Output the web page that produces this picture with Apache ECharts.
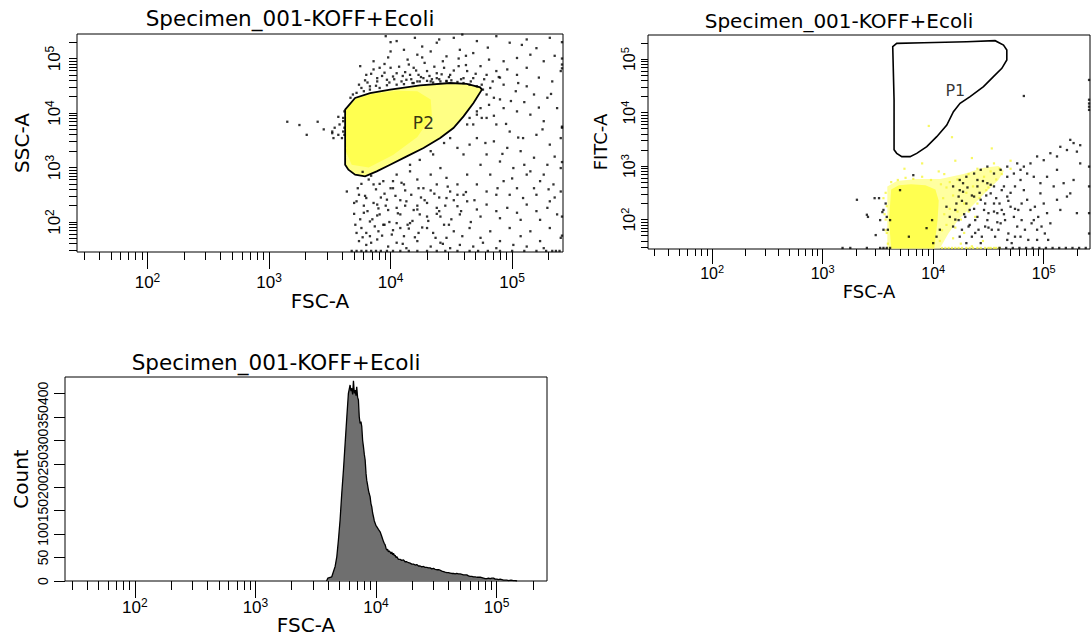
<!DOCTYPE html>
<html><head><meta charset="utf-8">
<script src="https://cdn.jsdelivr.net/npm/echarts@6/dist/echarts.min.js"></script>
<style>html,body{margin:0;padding:0;background:#fff}#c{width:1092px;height:641px}</style>
</head><body><div id="c"></div>
<script>
// ---------- texts ----------
const chartTitle = 'Specimen_001-KOFF+Ecoli';
const fscName = 'FSC-A', sscName = 'SSC-A', fitcName = 'FITC-A', countName = 'Count';
const p2Label = 'P2', p1Label = 'P1';

// ---------- axes (all fluorescence/scatter axes are drawn in log10 units) ----------
const fscRangeLog = [1.42, 5.4185];
const yRangeLog = [1.45, 5.45];
const countRange = [0, 435];
const majorTickExps = [2, 3, 4, 5];               // 10^2 ... 10^5
const minorTickValues = [30,40,50,60,70,80,90,200,300,400,500,600,700,800,900,
  2000,3000,4000,5000,6000,7000,8000,9000,20000,30000,40000,50000,60000,70000,80000,90000,200000];
const countTicks = [0,50,100,150,200,250,300,350,400];

// ---------- top-left: FSC-A vs SSC-A (log10 values) ----------
const p2GateLog = [[3.626,4.062],[3.708,4.276],[3.831,4.367],[3.996,4.429],[4.243,4.508],[4.490,4.551],[4.627,4.533],[4.737,4.471],[4.751,4.429],[4.682,4.184],[4.600,3.939],[4.517,3.725],[4.408,3.542],[4.271,3.358],[4.133,3.205],[3.996,3.052],[3.886,2.930],[3.790,2.838],[3.708,2.869],[3.653,2.961],[3.626,3.052]];
const p2CoreLog = [[3.632,4.045],[3.715,4.262],[3.850,4.350],[4.051,4.410],[4.220,4.400],[4.330,4.250],[4.340,3.950],[4.220,3.560],[4.020,3.230],[3.820,3.000],[3.680,3.050],[3.632,3.300]];
const p2LabelPos = [[4.27,3.82]];
const tlDotsLog = [
[3.96,5.41],[4.05,5.32],[4.20,5.38],[4.38,5.29],[4.52,5.38],[4.59,5.44],[4.71,5.32],[4.87,5.41],[4.98,5.29],[5.12,5.35],[5.20,5.19],[5.31,5.38],[5.15,5.07],[5.04,5.01],[4.93,4.95],[4.81,4.98],[4.68,5.10],[4.57,5.16],[4.46,5.04],[4.33,5.13],[4.22,5.07],[4.11,5.16],[4.00,5.13],[3.86,4.95],[3.75,4.86],[3.80,4.70],[3.91,4.83],[3.97,4.61],[4.05,4.73],[4.15,4.89],[4.23,4.70],[4.30,4.77],[4.38,4.64],[4.44,4.83],[4.49,4.70],[4.56,4.86],[4.63,4.77],[4.68,4.64],[4.74,4.86],[4.79,4.70],[4.87,4.77],[4.96,4.80],[5.04,4.70],[5.12,4.83],[5.26,4.95],[5.33,4.58],[5.40,4.77],[5.41,4.89],[3.89,4.58],[3.83,4.49],[3.76,4.46],[3.72,4.37],[4.13,4.61],[4.22,4.58],[4.33,4.58],[4.46,4.58],[4.60,4.64],[4.75,4.52],[4.82,4.46],[4.93,4.52],[5.03,4.40],[5.18,4.34],[5.29,4.28],[5.12,4.49],
[3.74,4.52],[3.79,4.60],[3.84,4.72],[3.88,4.50],[3.93,4.68],[3.95,4.90],[3.99,4.56],[4.03,4.62],[4.07,4.85],[4.09,4.58],[4.12,4.75],[4.14,4.98],[4.17,4.62],[4.21,4.78],[4.25,4.66],[4.28,4.92],[4.32,4.68],[4.36,4.85],[4.40,4.62],[4.43,4.95],[4.48,4.66],[4.52,4.78],[4.58,4.62],[4.62,4.88],[4.66,4.58],[4.70,4.72],[4.77,4.62],[4.84,4.58],[4.89,4.66],[3.86,4.80],[3.98,5.02],[4.10,4.68],[4.26,5.02],[4.34,4.62],[4.50,4.60],[4.56,5.00],[3.81,4.56],[3.95,4.74],[4.18,4.55],[4.42,4.71],
[3.78,4.40],[3.91,4.46],[4.05,4.52],[4.19,4.55],[4.30,4.59],[4.41,4.58],[4.55,4.57],[4.65,4.52],[4.71,4.49],[4.76,4.43],[4.79,4.34],[4.85,4.28],[4.90,4.25],[4.81,4.15],[4.74,4.09],[4.71,4.03],[4.65,3.91],[4.63,3.79],[3.83,4.43],[3.97,4.51],[4.11,4.53],[4.24,4.58],[4.35,4.56],[4.46,4.59],[4.60,4.55],[3.89,4.64],[4.02,4.67],[4.16,4.70],[4.27,4.64],[4.38,4.73],[4.00,4.83],[4.19,4.83],[3.67,4.28],[3.69,4.34],
[4.93,4.09],[5.04,4.03],[5.15,3.97],[5.26,3.85],[5.37,4.09],[5.41,3.73],[4.79,3.91],[4.87,3.79],[4.98,3.66],[5.09,3.54],[5.20,3.60],[5.31,3.42],[5.40,3.54],[4.85,3.48],[4.96,3.36],[5.07,3.30],[5.18,3.18],[5.29,3.05],[5.40,2.99],[4.79,3.24],[4.90,3.11],[5.01,2.99],[5.12,2.87],[5.23,2.75],[5.34,2.69],[4.71,3.54],[4.65,3.42],[4.60,3.24],[4.55,3.36],[4.74,3.05],[4.82,2.87],[4.93,2.75],[5.04,2.62],[5.15,2.93],[5.26,2.87],[4.44,3.45],[4.49,3.54],[4.33,3.30],[4.24,3.14],[4.16,3.05],[4.35,3.24],[4.68,3.79],[4.71,3.97],[4.75,3.91],
[4.85,3.95],[4.95,3.80],[5.05,3.55],[5.25,3.70],[5.35,3.20],[4.92,3.25],[5.10,3.05],[5.30,2.60],[4.88,2.62],[5.00,2.80],[5.18,2.62],[5.35,2.45],[4.78,3.45],[4.99,4.22],[5.10,4.20],[5.22,4.10],[5.32,4.35],[5.05,4.55],[4.90,4.65],[5.22,4.65],[5.35,5.05],[5.08,5.25],[4.80,5.20],[4.62,5.05],[4.40,5.35],[4.26,5.22],[4.00,5.30],
[3.52,3.66],[3.54,3.73],[3.57,3.60],[3.60,3.54],[3.58,3.79],[3.61,3.91],[3.53,3.54],[3.61,3.66],[3.62,3.60],[3.62,3.73],[3.61,3.85],[3.62,4.03],[3.15,3.84],[3.31,3.60],[3.40,3.84],[3.52,3.63],[3.57,3.93],[3.45,3.70],[3.25,3.78],
[3.64,2.56],[4.05,2.87],[4.16,2.93],[4.22,2.78],[4.33,2.87],[4.41,2.99],[4.46,2.81],[4.55,2.69],[4.63,2.87],[3.86,2.69],[3.94,2.75],[4.02,2.62],[4.11,2.69],[4.27,2.62],[4.38,2.69],[4.49,2.56],[4.60,2.50],[4.71,2.69],[4.79,2.56],[4.87,2.50],[4.98,2.50],[5.09,2.44],[5.20,2.50],[5.31,2.38],[5.40,2.56],
[3.72,2.38],[3.80,2.44],[3.89,2.32],[3.97,2.41],[4.05,2.26],[4.13,2.38],[4.22,2.23],[4.30,2.35],[4.38,2.26],[4.46,2.44],[4.55,2.29],[4.63,2.38],[4.71,2.23],[4.79,2.32],[4.87,2.20],[4.96,2.26],[5.04,2.17],[5.12,2.32],[5.20,2.20],[5.29,2.26],[5.37,2.14],[3.78,2.17],[3.91,2.14],[4.08,2.14],[4.24,2.14],[4.41,2.10],[4.57,2.14],[4.74,2.10],[4.90,2.07],[5.07,2.04],[5.23,2.04],
[3.71,1.95],[3.76,1.89],[3.83,2.01],[3.90,1.83],[3.94,1.95],[4.01,1.77],[4.08,1.89],[4.16,1.98],[4.23,1.80],[4.30,1.89],[4.37,1.71],[4.44,1.95],[4.52,1.83],[4.59,1.74],[4.65,1.89],[4.74,1.71],[4.82,1.83],[4.90,1.65],[4.98,1.89],[5.07,1.74],[5.15,1.83],[5.23,1.65],[5.31,1.89],[5.40,1.71],[3.74,1.65],[3.80,1.58],[3.89,1.68],[3.98,1.55],[4.05,1.62],[4.13,1.52],[4.22,1.65],[4.33,1.55],[4.41,1.62],[4.49,1.52],[4.57,1.58],[4.68,1.55],[4.76,1.62],[4.87,1.52],[5.01,1.58],[5.12,1.55],[5.26,1.52],[3.83,1.74],[4.11,1.74],[4.46,1.71],
[3.78,2.30],[3.85,2.05],[3.92,2.45],[3.98,2.22],[4.05,1.98],[4.12,2.58],[4.18,2.02],[4.25,2.45],[3.88,2.60],[3.95,1.95],[4.02,2.75],[4.30,2.10],[4.36,2.52],[3.74,2.50],[3.80,1.80],[4.08,2.40],[4.15,1.88],[4.22,2.30],[3.70,2.15],[3.90,2.25],[4.40,2.20],[4.48,1.95],[4.55,2.50],[3.76,2.70],[3.84,2.85],
[3.73,2.62],[3.75,2.05],[3.77,1.72],[3.79,2.48],[3.81,2.20],[3.82,2.78],[3.84,1.62],[3.86,2.35],[3.87,1.92],[3.89,2.12],[3.91,2.70],[3.93,1.75],[3.95,2.52],[3.96,2.30],[3.99,2.00],[4.00,2.62],[4.02,1.85],[4.04,2.48],[4.06,2.16],[4.09,2.72],[4.10,1.60],[4.12,2.30],[4.14,1.95],[4.17,2.50],[4.19,2.22],[4.20,1.72],[4.23,2.62],[4.26,1.90],[4.28,2.40],[4.31,2.02],[4.33,2.58],[4.35,1.80],[4.38,2.15],[4.40,2.45],[4.43,1.60],[4.45,2.30],[4.47,2.65],[4.50,2.05],[4.52,2.40],[4.58,2.20],[4.62,2.55],[4.66,2.00],[4.69,2.40],[3.77,2.92],[3.72,1.80],[3.70,2.35],
[3.68,1.47],[3.72,1.47],[3.76,1.47],[3.80,1.47],[3.84,1.47],[3.88,1.47],[3.92,1.47],[3.97,1.47],[4.02,1.47],[4.08,1.47],[4.15,1.47],[4.22,1.47],[4.30,1.47],[4.38,1.47],[4.45,1.47],[4.55,1.47],[4.65,1.47],[4.72,1.47],[4.80,1.47],[4.90,1.47],[5.00,1.47],[5.10,1.47],[5.20,1.47],[5.28,1.47],[5.33,1.47],[5.36,1.47],[5.39,1.47],
[5.41,5.00],[5.41,4.82],[5.41,3.75],[5.41,3.10],[5.41,2.10],[5.41,1.75],[5.41,5.30]
];

// ---------- top-right: FSC-A vs FITC-A (log10 values) ----------
const p1GateLog = [[3.634,5.232],[3.670,5.294],[3.912,5.306],[4.304,5.325],[4.560,5.344],[4.636,5.263],[4.666,5.169],[4.666,4.983],[4.621,4.827],[4.545,4.671],[4.455,4.484],[4.334,4.297],[4.243,4.173],[4.183,4.017],[4.123,3.768],[4.032,3.550],[3.942,3.363],[3.851,3.238],[3.791,3.176],[3.716,3.176],[3.670,3.238],[3.646,3.304],[3.646,4.235]];
const p1LabelPos = [[4.20,4.42]];
const trCoreLog = [[3.620,2.560],[3.690,2.640],[3.800,2.660],[3.930,2.640],[4.020,2.560],[4.050,2.350],[4.040,2.000],[4.010,1.460],[3.620,1.460],[3.600,2.000]];
const trCloudLog = [[3.585,2.620],[3.671,2.720],[3.852,2.760],[4.063,2.760],[4.274,2.850],[4.455,2.970],[4.590,3.000],[4.640,2.910],[4.590,2.740],[4.470,2.500],[4.350,2.250],[4.230,2.000],[4.140,1.750],[4.060,1.460],[3.585,1.460]];
const trYellowDotsLog = [[3.74,2.95],[3.90,3.05],[4.05,2.90],[4.20,3.10],[4.35,3.15],[3.96,3.75],[4.17,3.54],[4.53,3.33],[4.55,3.05],[4.70,3.10],[4.25,1.55],[4.35,1.50],[4.45,1.60],[4.50,1.47],[4.55,1.47],[4.40,1.47],[4.30,1.47],[4.20,1.47],[4.60,1.47],[3.55,2.40],[3.56,2.10],[3.57,1.80],[4.10,2.85],[4.15,2.70],[4.30,2.50],[4.40,2.30],[4.22,2.15],[4.12,1.90],[4.18,1.65],[4.28,1.75],[4.38,2.05],[4.50,2.60],[4.62,2.85],[4.70,2.95],
[3.57,2.50],[3.58,2.25],[3.57,2.00],[3.58,1.75],[3.59,1.55],[3.62,2.70],[3.68,2.74],[3.75,2.78],[3.82,2.76],[3.90,2.80],[3.98,2.74],[4.07,2.66],[4.09,2.40],[4.10,2.10],[4.08,1.80],[4.06,1.60],
[4.12,2.60],[4.18,2.45],[4.22,2.75],[4.28,2.30],[4.32,2.85],[4.36,2.62],[4.42,2.40],[4.46,2.80],[4.52,2.90],[4.57,2.75],[4.60,2.95],[4.25,2.00],[4.32,2.15],[4.15,2.20],[4.20,1.85],[4.48,2.55],[4.40,2.95],
[4.08,1.47],[4.11,1.47],[4.14,1.47],[4.17,1.47],[4.23,1.47],[4.26,1.47],[4.33,1.47],[4.36,1.47],[4.43,1.47],[4.47,1.47],[4.52,1.47],[4.57,1.47]];
const trDotsLog = [
[3.31,2.37],[3.47,2.40],[3.51,2.40],[3.55,2.18],[3.58,2.05],[3.52,1.99],[3.61,1.99],[3.57,2.30],[3.41,2.05],[3.55,1.81],[3.40,2.09],[3.54,2.14],[3.59,1.81],[3.48,1.71],
[3.70,2.55],[3.78,1.68],[3.82,2.83],[3.94,1.84],[4.00,1.56],[4.03,1.68],[3.99,1.99],[4.06,1.81],
[4.18,2.62],[4.23,2.43],[4.27,2.52],[4.30,2.30],[4.33,2.18],[4.37,2.43],[4.40,2.62],[4.43,2.37],[4.46,2.18],[4.49,1.99],[4.52,2.49],[4.55,2.30],[4.58,2.12],[4.61,1.93],[4.64,2.62],[4.67,2.43],[4.70,2.24],[4.73,2.05],[4.76,1.87],[4.79,2.74],[4.82,2.55],[4.85,2.37],[4.88,2.18],[4.91,1.99],[4.94,1.81],[4.97,2.49],[5.00,2.30],[5.03,2.12],[5.06,1.93],[5.09,2.62],[5.12,2.37],[5.15,2.18],[5.21,2.43],[5.27,2.74],[5.33,3.05],[5.30,2.12],
[4.20,2.18],[4.23,1.99],[4.26,1.81],[4.29,2.05],[4.32,1.87],[4.35,1.68],[4.38,1.99],[4.41,1.81],[4.44,1.68],[4.47,1.87],[4.50,2.12],[4.53,1.81],[4.56,1.68],[4.59,1.81],[4.62,2.18],[4.65,1.99],[4.68,1.74],[4.71,1.56],[4.74,1.68],[4.77,2.18],[4.80,1.99],[4.83,1.81],[4.86,1.62],[4.89,1.93],[4.92,2.24],[4.95,2.05],[4.98,1.87],[5.01,1.74],[5.04,1.62],
[4.24,2.74],[4.30,2.80],[4.37,2.86],[4.43,2.93],[4.49,2.99],[4.55,2.86],[4.61,2.93],[4.67,2.99],[4.73,2.86],[4.76,3.05],[4.82,2.99],[4.88,3.05],[4.94,3.18],[5.00,3.11],[5.06,3.24],[5.12,3.18],[5.15,3.36],[5.21,3.30],[5.27,3.43],[5.30,3.27],[5.24,3.49],[5.33,3.39],[5.12,2.93],[5.03,2.80],[4.97,2.68],[4.91,2.80],[4.85,2.86],[4.79,2.93],[5.18,2.68],[5.24,2.49],[4.49,2.68],[4.55,2.62],[4.21,2.30],[4.15,2.05],[4.12,2.24],[4.18,1.87],[4.24,1.68],[4.30,1.56],[4.43,1.56],[4.67,1.62],[4.79,1.68],[4.94,1.62],[4.67,2.80],[4.40,2.74],[4.27,2.68],[4.74,2.62],[4.80,2.30],
[4.26,2.35],[4.31,2.60],[4.37,2.20],[4.42,2.50],[4.47,2.30],[4.52,2.65],[4.57,2.40],[4.62,2.55],[4.40,2.05],[4.33,1.90],[4.50,1.85],[4.28,2.10],[4.45,2.72],[4.55,2.15],[4.60,2.30],[4.35,2.45],[4.20,2.00],[4.48,2.45],[4.64,2.10],[4.70,2.50],[4.38,1.75],[4.58,1.95],[4.24,2.55],[4.68,2.35],[4.74,2.20],
[4.82,4.31],
[3.18,1.47],[3.25,1.47],[3.40,1.47],[3.52,1.47],[3.55,1.47],[3.58,1.47],[3.61,1.47],[4.60,1.47],[4.66,1.47],[4.72,1.47],[4.78,1.47],[4.84,1.47],[4.90,1.47],[4.96,1.47],[5.02,1.47],[5.08,1.47],[5.14,1.47],[5.20,1.47],[5.26,1.47],[5.32,1.47],[5.38,1.47],
[5.41,4.61],[5.41,4.24],[5.41,4.17],[5.41,4.11],[5.41,4.05],[5.41,2.99],[5.41,2.62],[5.41,2.12],[5.41,1.74]
];

// ---------- bottom: FSC-A histogram (log10 FSC-A, count) ----------
const histFscLog = [3.59,3.60,3.633,3.661,3.675,3.688,3.702,3.716,3.730,3.744,3.758,3.771,3.785,3.792,3.799,3.806,3.813,3.820,3.827,3.834,3.840,3.847,3.854,3.861,3.868,3.875,3.882,3.889,3.896,3.903,3.910,3.917,3.923,3.930,3.937,3.944,3.951,3.958,3.965,3.972,3.979,3.986,3.993,4.000,4.006,4.020,4.034,4.048,4.062,4.069,4.076,4.083,4.089,4.096,4.103,4.110,4.117,4.124,4.131,4.138,4.145,4.152,4.159,4.166,4.172,4.186,4.200,4.214,4.228,4.241,4.255,4.270,4.283,4.297,4.311,4.325,4.338,4.352,4.366,4.380,4.394,4.407,4.421,4.435,4.449,4.463,4.477,4.490,4.504,4.518,4.532,4.546,4.560,4.573,4.587,4.601,4.615,4.629,4.643,4.656,4.670,4.684,4.698,4.712,4.726,4.740,4.753,4.767,4.781,4.795,4.809,4.823,4.836,4.850,4.864,4.878,4.892,4.905,4.919,4.933,4.947,4.961,4.975,4.989,5.003,5.016,5.030,5.044,5.058,5.072,5.085,5.100,5.120,5.140,5.154,5.170];
const histCounts = [0,6,9,31,52,87,130,187,237,294,350,400,418,405,411,398,427,400,407,395,414,392,386,350,336,340,329,300,286,270,258,230,215,205,194,186,180,165,158,145,137,128,123,118,116,110,105,95,84,80,77,70,66,68,62,64,62,58,62,56,59,54,55,50,52,46,46,44,45,41,41,39,38,36,36,34,35,32,32,30,31,29,29,28,28,26,27,25,24,24,23,21,20,19,18,18,17,16,16,15,16,15,15,14,13,13,13,11,10,10,9,9,8,8,8,7,6,5,5,6,5,6,6,4,4,3,4,3,2,2,2,1,2,1,1,0];

// ---------- build ----------
const minorTicksLog = minorTickValues.map(v => Math.log10(v));
const allTicksLog = minorTicksLog.concat(majorTickExps).sort((a, b) => a - b);
const BLACK = '#000';
const tickFont = "'Liberation Sans Narrow', 'Liberation Sans', Arial, sans-serif";
const nameFont = 'DejaVu Sans';
function decadeLabel(v) { return '{b|10}{s|' + Math.round(v) + '}'; }
function richFor(size) {
  return { b: { fontSize: size, fontFamily: tickFont, color: BLACK },
           s: { fontSize: Math.round(size * 0.7), fontFamily: tickFont, color: BLACK, padding: [0, 0, Math.round(size * 0.55), 0] } };
}
function fscAxes(gi, o) {
  const common = { type: 'value', gridIndex: gi, min: fscRangeLog[0], max: fscRangeLog[1], position: 'bottom', offset: 0,
    axisLine: { show: false, onZero: false }, splitLine: { show: false } };
  return [
    Object.assign({}, common, { axisTick: { show: true, length: o.minor, customValues: minorTicksLog, lineStyle: { color: BLACK, width: 1 } },
      axisLabel: { show: false } }),
    Object.assign({}, common, { name: fscName, nameLocation: 'middle', nameGap: o.nameGap, nameMoveOverlap: false,
      nameTextStyle: { fontFamily: nameFont, fontSize: o.nameSize, color: BLACK },
      axisTick: { show: true, length: o.major, customValues: majorTickExps, lineStyle: { color: BLACK, width: 1 } },
      axisLabel: { show: true, customValues: majorTickExps, formatter: decadeLabel, fontSize: o.tick, fontFamily: tickFont,
        rich: richFor(o.tick), margin: o.margin, hideOverlap: false } })
  ];
}
function logYAxis(gi, name, o) {
  return { type: 'value', gridIndex: gi, min: yRangeLog[0], max: yRangeLog[1], position: 'left',
    axisLine: { show: false, onZero: false }, splitLine: { show: false },
    axisTick: { show: true, length: o.len, customValues: allTicksLog, lineStyle: { color: BLACK, width: 1 } },
    axisLabel: { show: true, customValues: majorTickExps, formatter: decadeLabel, fontSize: o.tick, fontFamily: tickFont,
      rich: richFor(o.tick), rotate: 90, margin: o.margin, hideOverlap: false },
    name: name, nameLocation: 'middle', nameGap: o.nameGap, nameMoveOverlap: false,
    nameTextStyle: { fontFamily: nameFont, fontSize: o.nameSize, color: BLACK } };
}
function polySeries(xi, yi, verts, style) {
  return { type: 'custom', xAxisIndex: xi, yAxisIndex: yi, silent: true, clip: true, data: verts,
    renderItem: function (params, api) {
      if (params.dataIndex !== 0) return null;
      return { type: 'polygon', shape: { points: verts.map(v => api.coord(v)) }, style: style };
    } };
}
function dots(xi, yi, data, color, size) {
  return { type: 'scatter', xAxisIndex: xi, yAxisIndex: yi, data: data, symbol: 'rect', symbolSize: size,
    itemStyle: { color: color }, silent: true, clip: true };
}
function gateLabel(xi, yi, pos, text, size) {
  return { type: 'scatter', xAxisIndex: xi, yAxisIndex: yi, data: pos, symbolSize: 0, silent: true,
    itemStyle: { color: 'transparent' },
    label: { show: true, position: 'inside', formatter: text, fontFamily: nameFont, fontSize: size, color: BLACK,
      textBorderWidth: 0, textBorderColor: 'transparent', textShadowBlur: 0 } };
}
const gridBase = { show: true, borderColor: BLACK, borderWidth: 1, backgroundColor: 'transparent', containLabel: false, outerBoundsMode: 'none' };
const titleStyle = s => ({ fontFamily: nameFont, fontSize: s, fontWeight: 'normal', color: BLACK });

const option = {
  animation: false,
  backgroundColor: '#fff',
  textStyle: { fontFamily: tickFont },
  title: [
    { text: chartTitle, left: 290, top: 7, textAlign: 'center', padding: 0, textStyle: titleStyle(21.5) },
    { text: chartTitle, left: 839, top: 11, textAlign: 'center', padding: 0, textStyle: titleStyle(20) },
    { text: chartTitle, left: 276, top: 351, textAlign: 'center', padding: 0, textStyle: titleStyle(21.5) }
  ],
  grid: [
    Object.assign({ left: 77, top: 34, width: 486, height: 218 }, gridBase),
    Object.assign({ left: 648, top: 35, width: 442, height: 214 }, gridBase),
    Object.assign({ left: 65, top: 377, width: 482, height: 204 }, gridBase)
  ],
  xAxis: [].concat(
    fscAxes(0, { minor: 8, major: 17, tick: 17, margin: 20, nameGap: 39, nameSize: 20 }),
    fscAxes(1, { minor: 7, major: 15, tick: 16, margin: 14, nameGap: 33, nameSize: 18 }),
    fscAxes(2, { minor: 9, major: 17, tick: 17, margin: 16, nameGap: 34, nameSize: 20 })
  ),
  yAxis: [
    logYAxis(0, sscName, { len: 8, tick: 17, margin: 12, nameGap: 45, nameSize: 20 }),
    logYAxis(1, fitcName, { len: 7, tick: 16, margin: 9, nameGap: 39, nameSize: 18 }),
    { type: 'value', gridIndex: 2, min: countRange[0], max: countRange[1], position: 'left',
      axisLine: { show: false, onZero: false }, splitLine: { show: false },
      axisTick: { show: true, length: 11, customValues: countTicks, lineStyle: { color: BLACK, width: 1 } },
      axisLabel: { show: true, customValues: countTicks, rotate: 90, margin: 15, fontSize: 14, fontFamily: tickFont, color: BLACK,
        hideOverlap: false, showMinLabel: true, showMaxLabel: true },
      name: countName, nameLocation: 'middle', nameGap: 34, nameMoveOverlap: false,
      nameTextStyle: { fontFamily: nameFont, fontSize: 20, color: BLACK } }
  ],
  series: [
    polySeries(1, 0, p2GateLog, { fill: '#ffff84', stroke: 'none' }),
    polySeries(1, 0, p2CoreLog, { fill: '#ffff50', stroke: 'none' }),
    dots(1, 0, tlDotsLog, BLACK, 2.3),
    polySeries(1, 0, p2GateLog, { fill: 'none', stroke: BLACK, lineWidth: 1.8 }),
    gateLabel(1, 0, p2LabelPos, p2Label, 17),

    polySeries(3, 1, trCloudLog, { fill: '#ffffa0', stroke: 'none' }),
    polySeries(3, 1, trCoreLog, { fill: '#ffff50', stroke: 'none' }),
    dots(3, 1, trYellowDotsLog, '#f5f53a', 2.2),
    dots(3, 1, trDotsLog, BLACK, 2.3),
    polySeries(3, 1, p1GateLog, { fill: 'none', stroke: BLACK, lineWidth: 1.6 }),
    gateLabel(3, 1, p1LabelPos, p1Label, 16),

    { type: 'line', xAxisIndex: 5, yAxisIndex: 2, data: histFscLog.map((x, i) => [x, histCounts[i]]),
      showSymbol: false, symbol: 'none', silent: true, smooth: false,
      lineStyle: { color: BLACK, width: 1.3 }, areaStyle: { color: '#6f6f6f', opacity: 1 } }
  ]
};
const chart = echarts.init(document.getElementById('c'), null, { renderer: 'svg', width: 1092, height: 641 });
chart.setOption(option);
</script>
</body></html>
